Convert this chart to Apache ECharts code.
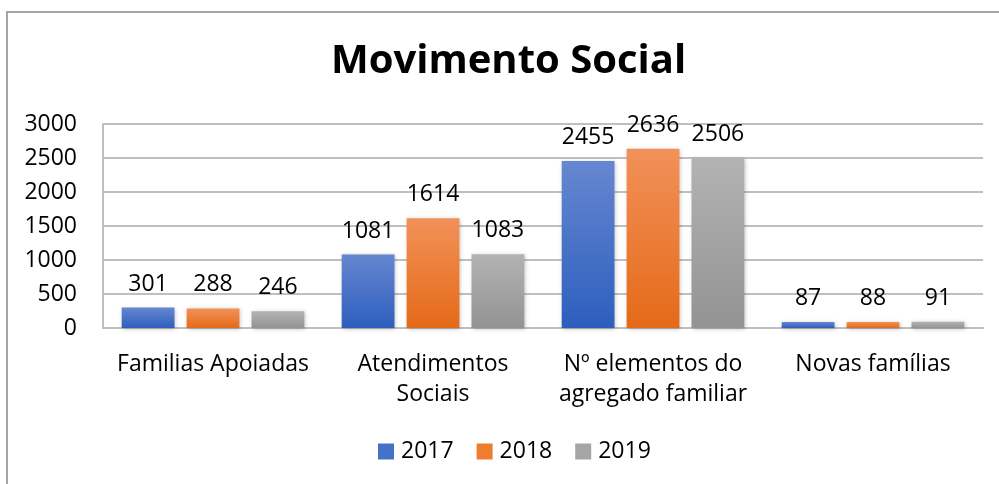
<!DOCTYPE html>
<html>
<head>
<meta charset="utf-8">
<script src="https://cdn.jsdelivr.net/npm/echarts@6/dist/echarts.min.js"></script>
<style>
  html, body { margin: 0; padding: 0; background: #fff; }
  #chart { width: 999px; height: 484px; }
</style>
</head>
<body>
<div id="chart"></div>
<script>
var categories = ["Familias Apoiadas", "Atendimentos\nSociais", "Nº elementos do\nagregado familiar", "Novas famílias"];
var years = ["2017", "2018", "2019"];
var values2017 = [301, 1081, 2455, 87];
var values2018 = [288, 1614, 2636, 88];
var values2019 = [246, 1083, 2506, 91];
var yTicks = [0, 500, 1000, 1500, 2000, 2500, 3000];

var font = "'Open Sans', sans-serif";

function grad(top, bottom) {
    return new echarts.graphic.LinearGradient(0, 0, 0, 1, [
        {offset: 0, color: top},
        {offset: 1, color: bottom}
    ]);
}

var fills = [
    grad("#6687d0", "#2d5ebe"),
    grad("#f29159", "#e56a18"),
    grad("#b3b3b3", "#939393")
];
var legendColors = ["#4472c4", "#ed7d31", "#a5a5a5"];

function makeSeries(name, data, i) {
    return {
        name: name,
        type: "bar",
        data: data,
        barGap: "23%",
        barCategoryGap: "17%",
        itemStyle: {
            color: fills[i],
            shadowColor: "rgba(0,0,0,0.25)",
            shadowBlur: 4,
            shadowOffsetX: 1,
            shadowOffsetY: 1
        },
        label: {
            show: true,
            position: "top",
            distance: 12,
            fontFamily: font,
            fontSize: 23,
            color: "#000"
        }
    };
}

var chart = echarts.init(document.getElementById("chart"));
chart.setOption({
    animation: false,
    backgroundColor: "#fff",
    color: legendColors,
    title: {
        text: "Movimento Social",
        left: 326,
        top: 37,
        textStyle: {fontFamily: font, fontWeight: "bold", fontSize: 40, color: "#000"}
    },
    legend: {
        data: years.map(function (y, i) {
            return {name: y, itemStyle: {color: legendColors[i]}};
        }),
        bottom: 16,
        left: 373,
        itemWidth: 16,
        itemHeight: 16,
        itemGap: 23,
        icon: "rect",
        textStyle: {fontFamily: font, fontSize: 23, color: "#000", padding: [0, 0, 0, 2]}
    },
    grid: {left: 103, right: 16, top: 124, bottom: 156},
    xAxis: {
        type: "category",
        data: categories,
        axisLine: {lineStyle: {color: "#bfbfbf", width: 2}},
        axisTick: {show: false},
        axisLabel: {fontFamily: font, fontSize: 23, color: "#000", margin: 21, lineHeight: 30, interval: 0}
    },
    yAxis: {
        type: "value",
        min: yTicks[0],
        max: yTicks[yTicks.length - 1],
        interval: 500,
        axisLine: {show: true, lineStyle: {color: "#bfbfbf", width: 2}},
        axisLabel: {
            fontFamily: font, fontSize: 23, color: "#000", margin: 26,
            formatter: function (v) { return String(v); }
        },
        splitLine: {lineStyle: {color: "#bfbfbf", width: 2}}
    },
    series: [
        makeSeries(years[0], values2017, 0),
        makeSeries(years[1], values2018, 1),
        makeSeries(years[2], values2019, 2)
    ],
    graphic: [{
        type: "rect",
        shape: {x: 7, y: 12, width: 1200, height: 800},
        style: {fill: null, stroke: "#a6a6a6", lineWidth: 2},
        silent: true
    }]
});
</script>
</body>
</html>
